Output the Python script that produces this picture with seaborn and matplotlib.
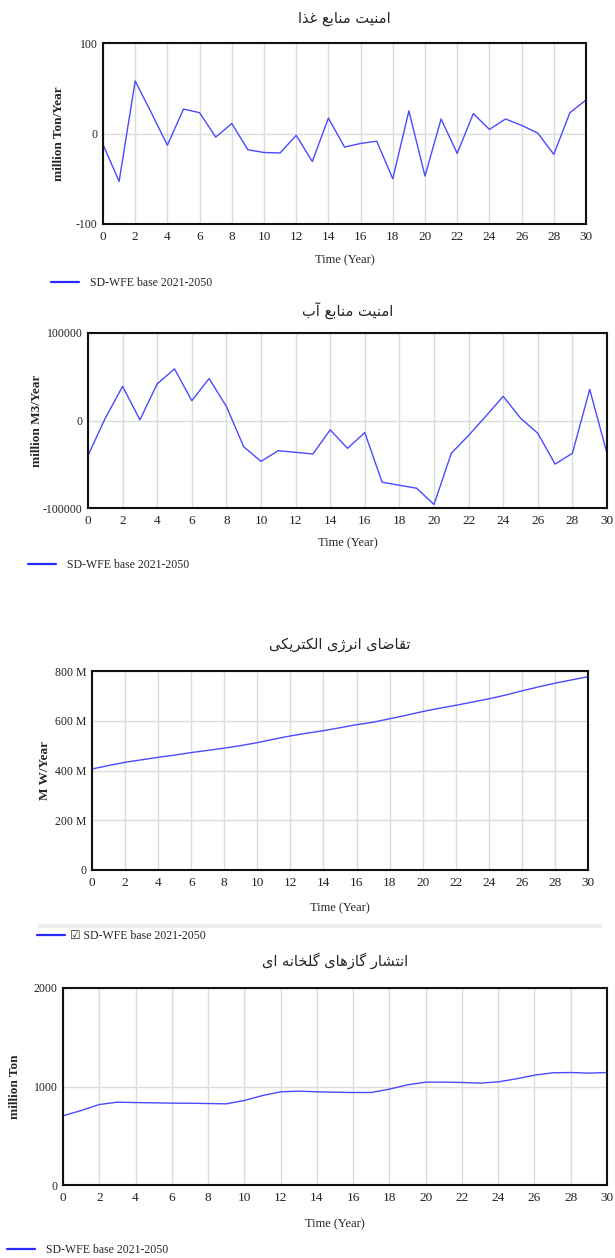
import numpy as np
import pandas as pd
import matplotlib
matplotlib.use("Agg")
import matplotlib.pyplot as plt
from matplotlib.patches import Rectangle
import seaborn as sns

# ---------------------------------------------------------------- data
years = list(range(0, 31))

food_security = [-12, -53, 58, 23, -13, 27, 23, -4, 11, -18, -21, -21.5, -2, -31,
                 17, -15, -11, -8.5, -50, 25, -47, 16, -22, 22, 4.5, 16, 9, 0.5,
                 -23, 23, 37]

water_security = [-40000, 2700, 39000, 800, 41800, 59000, 22600, 48000, 16000,
                  -30000, -46700, -34500, -36400, -38300, -10700, -31800, -13800,
                  -70500, -74000, -77400, -96000, -37500, -17000, 5000, 27600,
                  2700, -14600, -49800, -37500, 35600, -37500]

# electricity demand, millions of MW per year
electricity_demand = [406, 420, 433, 443, 453, 462, 472, 481, 490, 500, 512, 526,
                      539, 550, 560, 572, 584, 594, 608, 622, 637, 650, 662, 675,
                      688, 703, 720, 736, 751, 764, 777]

ghg_emission = [702, 756, 817, 841, 837, 834, 831, 830, 827, 824, 858, 908, 946,
                953, 946, 942, 939, 939, 973, 1017, 1044, 1044, 1041, 1034, 1047,
                1078, 1115, 1139, 1142, 1136, 1142]

titles = ["امنیت منابع غذا", "امنیت منابع آب",
          "تقاضای انرژی الکتریکی", "انتشار گازهای گلخانه ای"]
y_labels = ["million Ton/Year", "million M3/Year", "M W/Year", "million Ton"]
y_ticks = [[-100, 0, 100], [-100000, 0, 100000], [0, 200, 400, 600, 800],
           [0, 1000, 2000]]
x_ticks = list(range(0, 31, 2))
x_label = "Time (Year)"
run_name = "SD-WFE base 2021-2050"

# ------------------------------------------------- Persian text shaping
# contextual forms: isolated, final, initial, medial
FORMS = {
    "\u0627": ("\uFE8D", "\uFE8E", None, None),
    "\u0622": ("\uFE81", "\uFE82", None, None),
    "\u0628": ("\uFE8F", "\uFE90", "\uFE91", "\uFE92"),
    "\u062A": ("\uFE95", "\uFE96", "\uFE97", "\uFE98"),
    "\u062E": ("\uFEA5", "\uFEA6", "\uFEA7", "\uFEA8"),
    "\u0630": ("\uFEAB", "\uFEAC", None, None),
    "\u0631": ("\uFEAD", "\uFEAE", None, None),
    "\u0632": ("\uFEAF", "\uFEB0", None, None),
    "\u0698": ("\uFB8A", "\uFB8B", None, None),
    "\u0634": ("\uFEB5", "\uFEB6", "\uFEB7", "\uFEB8"),
    "\u0636": ("\uFEBD", "\uFEBE", "\uFEBF", "\uFEC0"),
    "\u0639": ("\uFEC9", "\uFECA", "\uFECB", "\uFECC"),
    "\u063A": ("\uFECD", "\uFECE", "\uFECF", "\uFED0"),
    "\u0642": ("\uFED5", "\uFED6", "\uFED7", "\uFED8"),
    "\u0644": ("\uFEDD", "\uFEDE", "\uFEDF", "\uFEE0"),
    "\u0645": ("\uFEE1", "\uFEE2", "\uFEE3", "\uFEE4"),
    "\u0646": ("\uFEE5", "\uFEE6", "\uFEE7", "\uFEE8"),
    "\u0647": ("\uFEE9", "\uFEEA", "\uFEEB", "\uFEEC"),
    "\u06CC": ("\uFBFC", "\uFBFD", "\uFBFE", "\uFBFF"),
    "\u06A9": ("\uFB8E", "\uFB8F", "\uFB90", "\uFB91"),
    "\u06AF": ("\uFB92", "\uFB93", "\uFB94", "\uFB95"),
}


def shape_rtl(text):
    out = []
    for i, ch in enumerate(text):
        if ch not in FORMS:
            out.append(ch)
            continue
        prev = text[i - 1] if i > 0 else ""
        nxt = text[i + 1] if i + 1 < len(text) else ""
        iso, fin, ini, med = FORMS[ch]
        joins_prev = prev in FORMS and FORMS[prev][2] is not None
        joins_next = ini is not None and nxt in FORMS
        if joins_prev and joins_next:
            out.append(med)
        elif joins_prev:
            out.append(fin)
        elif joins_next:
            out.append(ini)
        else:
            out.append(iso)
    return "".join(reversed(out))


# ---------------------------------------------------------------- style
sns.set_style("white")
plt.rcParams["font.family"] = ["Liberation Serif", "DejaVu Sans"]
plt.rcParams["axes.unicode_minus"] = False

W, H = 615, 1258
fig = plt.figure(figsize=(W / 100, H / 100), dpi=100)

LINE = "#4a4aff"
GRID = "#dcdcdc"


def px_axes(left, top, right, bottom):
    return fig.add_axes([left / W, 1 - bottom / H, (right - left) / W,
                         (bottom - top) / H])


panels = [
    dict(box=(103, 43, 586, 224), values=food_security, title_y=18,
         ylab_x=59, xlab_y=260, leg=(51, 283), check=False),
    dict(box=(88, 333, 607, 508), values=water_security, title_y=310,
         ylab_x=37, xlab_y=543, leg=(28, 565), check=False),
    dict(box=(92, 671, 588, 870), values=electricity_demand, title_y=644,
         ylab_x=45, xlab_y=908, leg=(37, 936), check=True),
    dict(box=(63, 988, 607, 1185), values=ghg_emission, title_y=961,
         ylab_x=15, xlab_y=1224, leg=(7, 1250), check=False),
]

for k, p in enumerate(panels):
    left, top, right, bottom = p["box"]
    ax = px_axes(left, top, right, bottom)
    df = pd.DataFrame({"Time": years, "Value": p["values"], "Run": run_name})
    sns.lineplot(data=df, x="Time", y="Value", ax=ax, color=LINE, lw=1.0,
                 label=("\u2611 " + run_name) if p["check"] else run_name,
                 legend=False)

    ax.set_xlim(0, 30)
    ax.set_ylim(y_ticks[k][0], y_ticks[k][-1])
    ax.set_xticks(x_ticks)
    ax.set_yticks(y_ticks[k])
    if k == 2:
        ax.set_yticklabels(["0" if v == 0 else f"{v} M" for v in y_ticks[k]])
    ax.grid(True, color=GRID, lw=1.0)
    ax.set_axisbelow(True)
    for s in ax.spines.values():
        s.set_color("#111111")
        s.set_linewidth(1.5)
    ax.tick_params(axis="y", length=3, width=0.8, pad=1, labelsize=8.5,
                   colors="#222222")
    ax.tick_params(axis="x", length=0, pad=5, labelsize=9.5, colors="#222222")
    ax.set_xlabel("")
    ax.set_ylabel("")

    cx = (left + right) / 2
    fig.text(cx / W, 1 - p["title_y"] / H, shape_rtl(titles[k]),
             family="DejaVu Sans", fontsize=10.5, ha="center", va="center")
    fig.text(p["ylab_x"] / W, 1 - (top + bottom) / 2 / H, y_labels[k],
             rotation=90, fontweight="bold", fontsize=9.5, ha="center",
             va="center")
    fig.text(cx / W, 1 - p["xlab_y"] / H, x_label, fontsize=9,
             ha="center", va="center")

    lx, ly = p["leg"]
    leg = ax.legend(loc="center left", bbox_to_anchor=(lx / W, 1 - ly / H),
                    bbox_transform=fig.transFigure, frameon=False,
                    handlelength=2.4, handletextpad=0.9 if not p["check"] else 0.4,
                    borderaxespad=0, borderpad=0,
                    prop=dict(family=["Liberation Serif", "DejaVu Sans"],
                              size=8.5))
    for h in leg.get_lines():
        h.set_color("#2a2aff")
        h.set_linewidth(1.6)

# thin separator bar above the third legend
fig.patches.append(Rectangle((38 / W, 1 - 927 / H), (601 - 38) / W, 3 / H,
                             transform=fig.transFigure, color="#eeeeee",
                             zorder=0))

fig.savefig("out.png", dpi=100)
